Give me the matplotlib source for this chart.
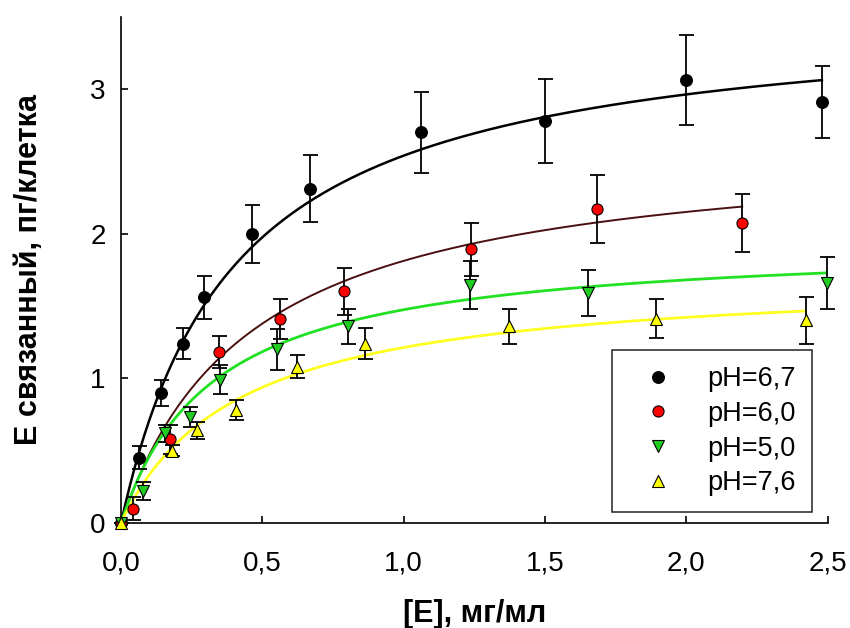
import numpy as np
import matplotlib
matplotlib.use("Agg")
import matplotlib.pyplot as plt
from matplotlib.ticker import FuncFormatter

plt.rcParams["font.family"] = ["Liberation Sans", "DejaVu Sans"]

# pH 6,7
x_67 = [0.0, 0.065, 0.14, 0.22, 0.295, 0.465, 0.67, 1.06, 1.50, 2.00, 2.48]
y_67 = [0.0, 0.45, 0.90, 1.24, 1.56, 2.00, 2.31, 2.70, 2.78, 3.06, 2.91]
e_67 = [0.0, 0.08, 0.09, 0.11, 0.15, 0.20, 0.23, 0.28, 0.29, 0.31, 0.25]

# pH 6,0
x_60 = [0.0, 0.044, 0.175, 0.347, 0.564, 0.788, 1.24, 1.684, 2.198]
y_60 = [0.0, 0.10, 0.58, 1.18, 1.41, 1.60, 1.89, 2.17, 2.075]
e_60 = [0.0, 0.08, 0.10, 0.11, 0.14, 0.16, 0.185, 0.235, 0.20]

# pH 5,0
x_50 = [0.0, 0.079, 0.155, 0.244, 0.35, 0.552, 0.802, 1.235, 1.654, 2.497]
y_50 = [0.0, 0.22, 0.62, 0.73, 0.99, 1.20, 1.36, 1.645, 1.59, 1.66]
e_50 = [0.0, 0.06, 0.06, 0.07, 0.10, 0.14, 0.12, 0.165, 0.16, 0.18]

# pH 7,6
x_76 = [0.0, 0.18, 0.268, 0.407, 0.623, 0.863, 1.373, 1.892, 2.423]
y_76 = [0.0, 0.50, 0.64, 0.78, 1.08, 1.24, 1.36, 1.41, 1.40]
e_76 = [0.0, 0.04, 0.06, 0.07, 0.08, 0.11, 0.12, 0.135, 0.16]

# hyperbolic fit parameters (Bmax, Kd) for each series
fit_67 = (3.554, 0.40)
fit_60 = (2.643, 0.459)
fit_50 = (1.953, 0.325)
fit_76 = (1.716, 0.415)

labels = ["pH=6,7", "pH=6,0", "pH=5,0", "pH=7,6"]

fig = plt.figure(figsize=(8.5, 6.28), dpi=100)
ax = fig.add_axes([0.1424, 0.1672, 0.8312, 0.8065])

series = [
    (x_67, y_67, e_67, fit_67, "o", "black", "black", 8.5, "black", 1.8),
    (x_60, y_60, e_60, fit_60, "o", "#ff0000", "black", 8.0, "#4a1010", 1.4),
    (x_50, y_50, e_50, fit_50, "v", "#22cc22", "black", 8.0, "#22e022", 2.0),
    (x_76, y_76, e_76, fit_76, "^", "#ffff00", "black", 8.0, "#ffff22", 2.0),
]

for (xs, ys, es, fit, mk, fc, ec, ms, lc, lw), lab in zip(series, labels):
    bmax, kd = fit
    xf = np.linspace(0, max(xs), 300)
    ax.plot(xf, bmax * xf / (kd + xf), color=lc, lw=lw, zorder=2)
    ax.errorbar(xs, ys, yerr=es, fmt="none", ecolor="black", elinewidth=1.3,
                capsize=5.4, capthick=1.3, zorder=3, clip_on=False)
    ax.plot(xs, ys, linestyle="none", marker=mk, markerfacecolor=fc,
            markeredgecolor=ec, markeredgewidth=0.8, markersize=ms,
            label=lab, zorder=4, clip_on=False)

ax.set_xlim(0, 2.5)
ax.set_ylim(0, 3.5)
ax.set_xticks([0, 0.5, 1.0, 1.5, 2.0, 2.5])
ax.set_yticks([0, 1, 2, 3])
ax.xaxis.set_major_formatter(FuncFormatter(lambda v, p: f"{v:.1f}".replace(".", ",")))

for s in ["top", "right"]:
    ax.spines[s].set_visible(False)
for s in ["left", "bottom"]:
    ax.spines[s].set_linewidth(1.2)

ax.tick_params(direction="in", length=5, width=1.2, labelsize=20)
ax.tick_params(axis="x", pad=20)
ax.tick_params(axis="y", pad=11)

ax.set_xlabel("[E], мг/мл", fontsize=22, fontweight="bold", labelpad=16)
ax.set_ylabel("Е связанный, пг/клетка", fontsize=22, fontweight="bold", labelpad=33)

leg = ax.legend(loc="upper left", bbox_to_anchor=(0.695, 0.3416), borderaxespad=0,
                fontsize=19.5, frameon=True, fancybox=False, handletextpad=0.72,
                borderpad=0.6, labelspacing=0.32, handlelength=2.2)
leg.get_frame().set_edgecolor("black")
leg.get_frame().set_linewidth(1.2)

fig.savefig("out.png", dpi=100)
